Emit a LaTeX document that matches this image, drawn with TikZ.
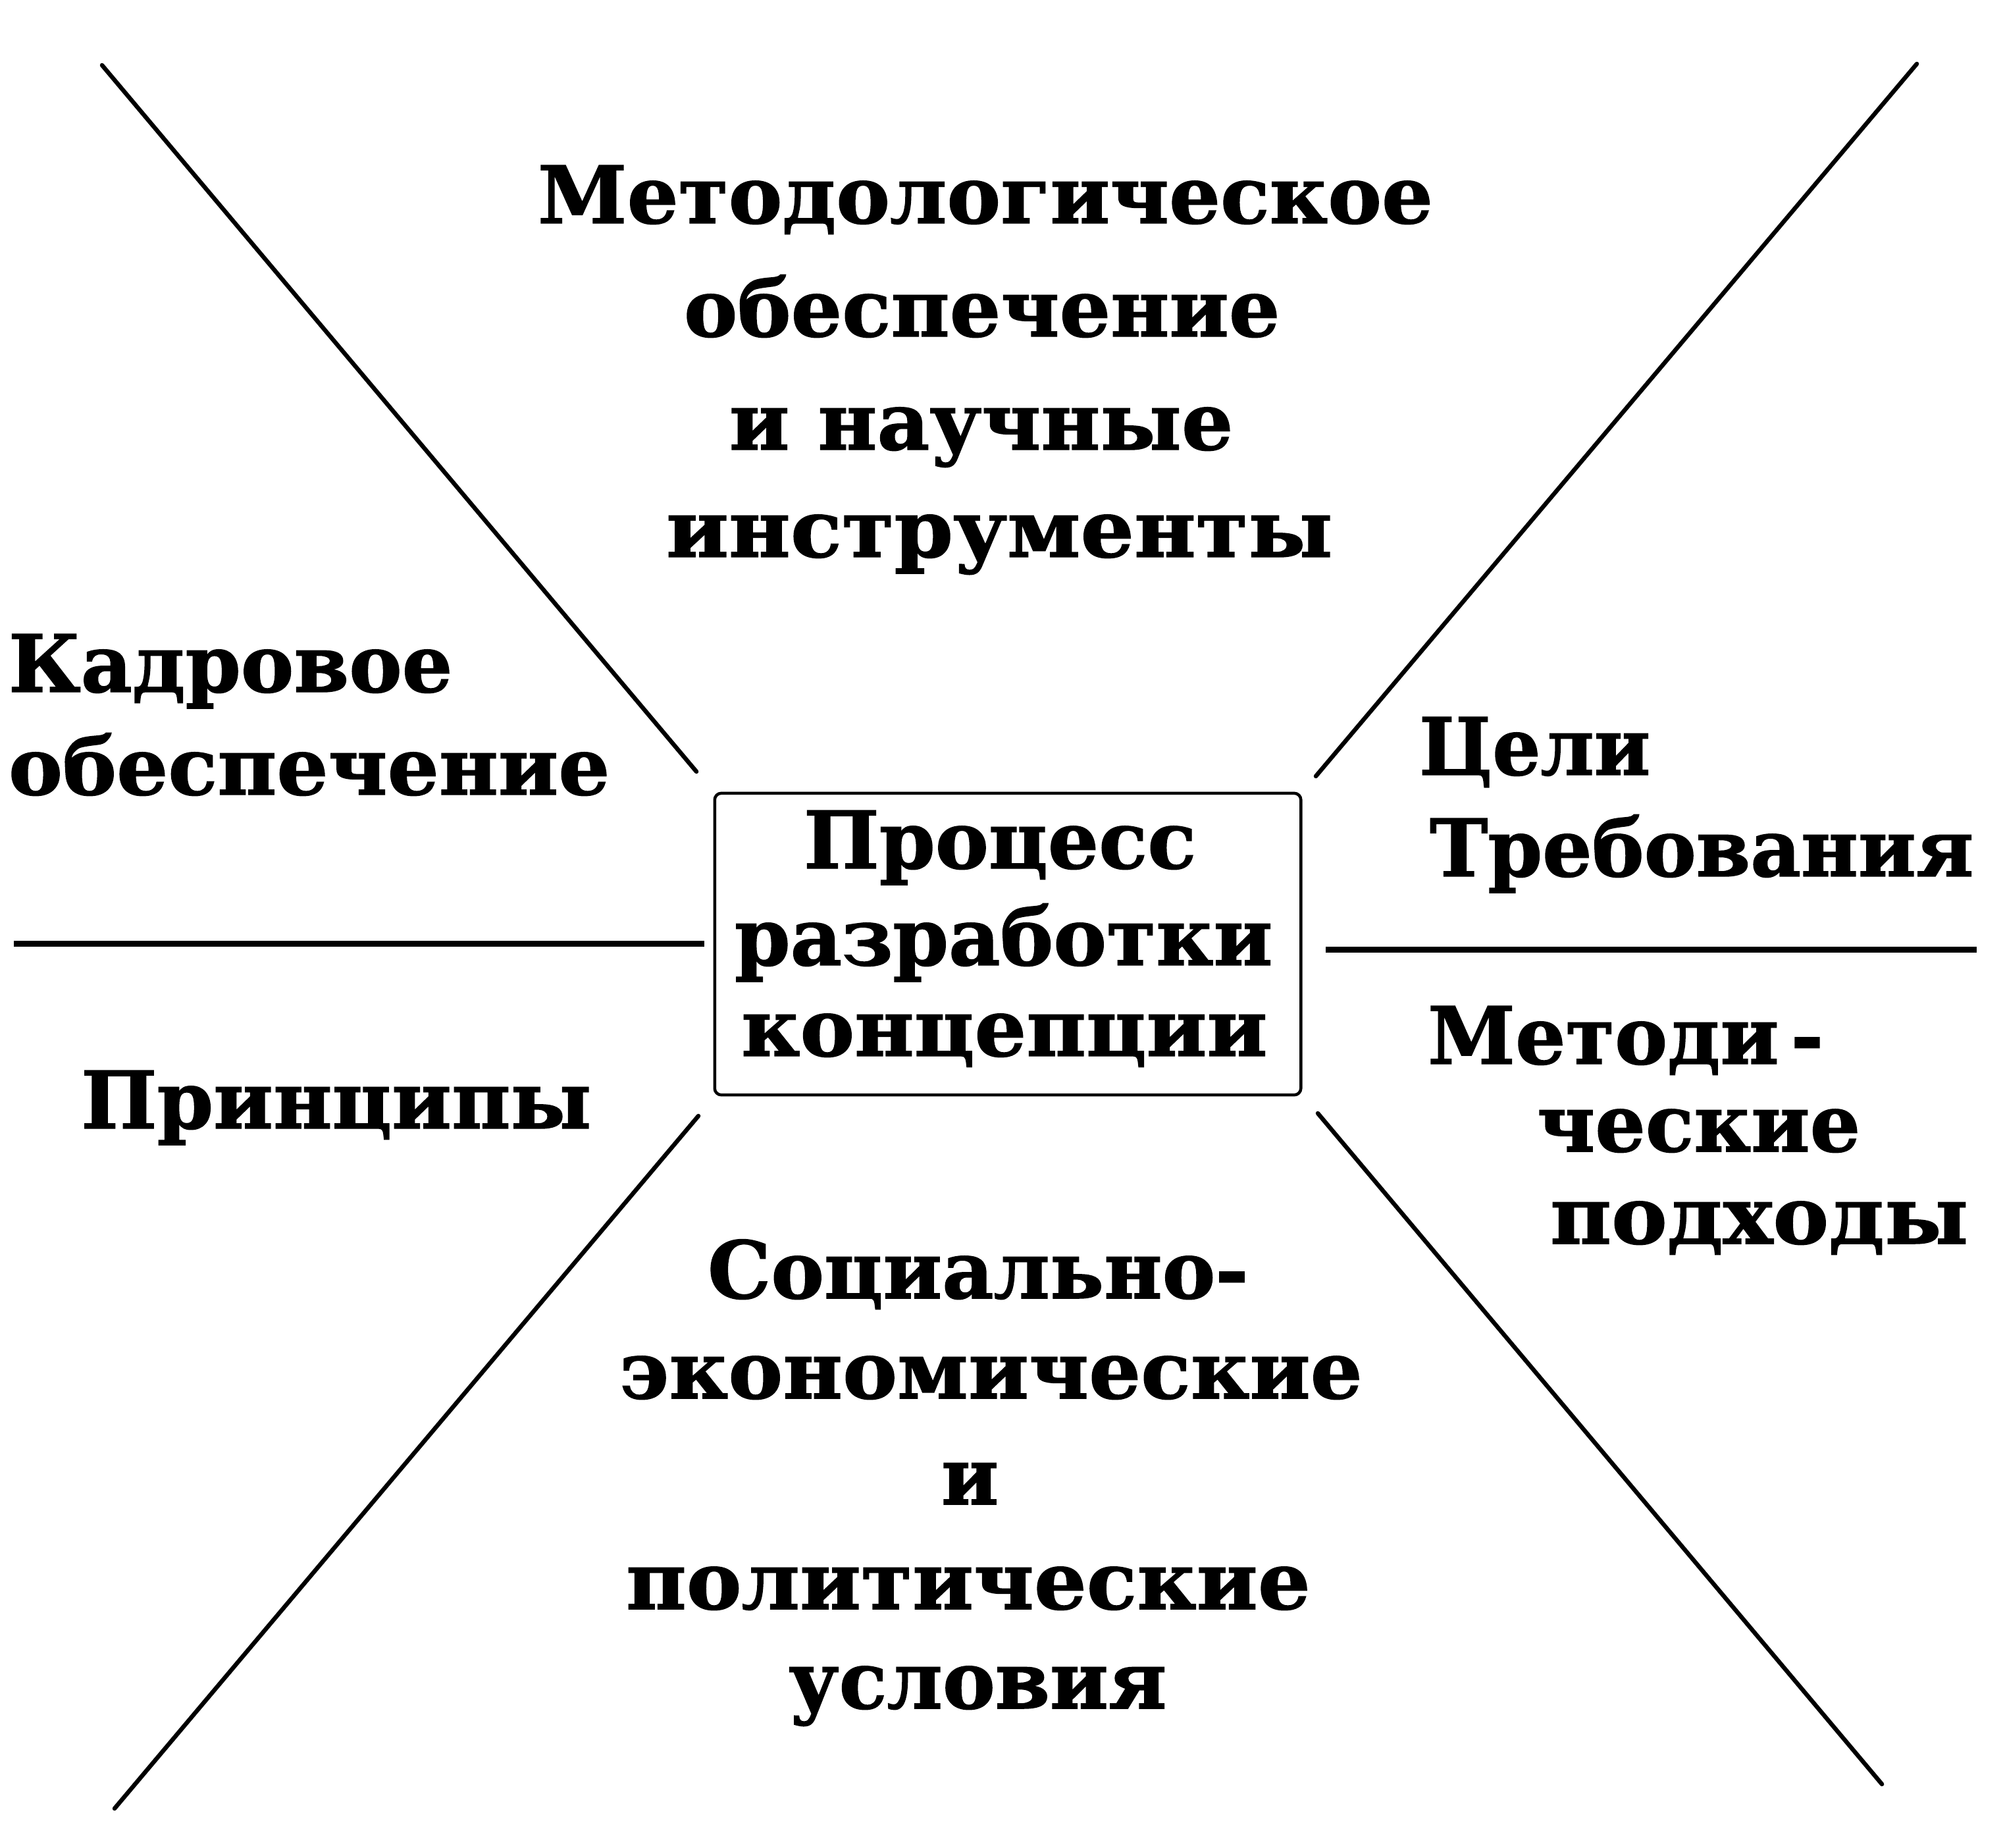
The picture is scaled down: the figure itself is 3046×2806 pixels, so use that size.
\documentclass[tikz,border=0pt]{standalone}
\usepackage{fontspec}
\setmainfont{DejaVu Serif}[BoldFeatures={FakeBold=1.2}]
\usepackage{graphicx}
\newcommand\wl[2]{\resizebox{#1}{\height}{#2}}
\begin{document}
\begin{tikzpicture}[x=0.01cm,y=-0.01cm,
  lbl/.style={inner sep=0pt, outer sep=0pt, anchor=base west,
    font=\bfseries\fontsize{34.3pt}{40pt}\selectfont},
  diag/.style={line width=0.065cm, line cap=round},
  hor/.style={line width=0.09cm},
  centerbox/.style={draw, line width=0.045cm, rounded corners=0.1cm,
    minimum width=8.9cm, minimum height=4.58cm, inner sep=0pt}]
\useasboundingbox (0,0) rectangle (3046,2806);

% central box
\node[centerbox] (box) at (1531,1434) {};
\node[lbl] (p1) at (1221,1319) {\wl{5.96cm}{Процесс}};
\node[lbl] (p2) at (1116,1466) {\wl{8.17cm}{разработки}};
\node[lbl] (p3) at (1126,1604) {\wl{7.99cm}{концепции}};

% top block
\node[lbl] (t1) at (817,339) {\wl{13.59cm}{Методологическое}};
\node[lbl] (t2) at (1039,511) {\wl{9.05cm}{обеспечение}};
\node[lbl] (t3) at (1108,683) {\wl{7.65cm}{и научные}};
\node[lbl] (t4) at (1012,846) {\wl{10.12cm}{инструменты}};

% left block
\node[lbl] (l1) at (13,1051) {\wl{6.74cm}{Кадровое}};
\node[lbl] (l2) at (13,1207) {\wl{9.13cm}{обеспечение}};
\node[lbl] (l3) at (123,1714) {\wl{7.75cm}{Принципы}};

% right block
\node[lbl] (r1) at (2156,1177) {\wl{3.51cm}{Цели}};
\node[lbl] (r2) at (2172,1331) {\wl{8.26cm}{Требования}};
\node[lbl] (r3) at (2169,1616) {\wl{6.01cm}{Методи\kern0.15em-}};
\node[lbl] (r4) at (2335,1749) {\wl{4.91cm}{ческие}};
\node[lbl] (r5) at (2355,1889) {\wl{6.35cm}{подходы}};

% bottom block
\node[lbl] (b1) at (1075,1972) {\wl{8.21cm}{Социально-}};
\node[lbl] (b2) at (941,2124) {\wl{11.28cm}{экономические}};
\node[lbl] (b3) at (1430,2285) {\wl{0.87cm}{и}};
\node[lbl] (b4) at (951,2444) {\wl{10.39cm}{политические}};
\node[lbl] (b5) at (1198,2595) {\wl{5.74cm}{условия}};

% line end points
\coordinate (tlA) at (155,99);   \coordinate (tlB) at (1058,1172);
\coordinate (trA) at (2912,97);  \coordinate (trB) at (1999,1179);
\coordinate (blA) at (1061,1695);\coordinate (blB) at (174,2747);
\coordinate (brA) at (2002,1691);\coordinate (brB) at (2859,2710);
\coordinate (hlA) at (21,1433);  \coordinate (hlB) at (1070,1433);
\coordinate (hrA) at (2014,1442);\coordinate (hrB) at (3003,1442);

\draw[diag] (tlA) -- (tlB);
\draw[diag] (trA) -- (trB);
\draw[diag] (blA) -- (blB);
\draw[diag] (brA) -- (brB);
\draw[hor] (hlA) -- (hlB);
\draw[hor] (hrA) -- (hrB);
\end{tikzpicture}
\end{document}
